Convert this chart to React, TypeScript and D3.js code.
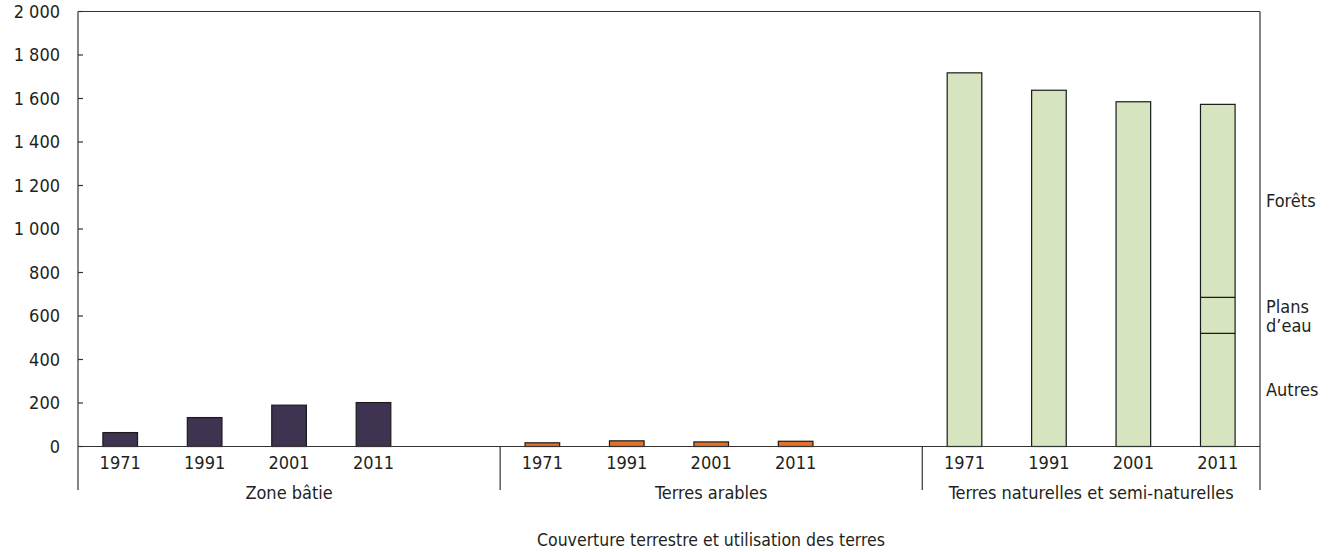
import * as d3 from 'd3';
import React, {useEffect} from 'react';

// categories and years
const groups = ['Zone bâtie', 'Terres arables', 'Terres naturelles et semi-naturelles'];
const years = ['1971', '1991', '2001', '2011'];
const blankSlots = [1, 1, 0];

// values (thousand ha)
const zoneBatie = [64, 133, 190, 202];
const terresArables = [17, 26, 21, 24];
const terresNaturelles = [1718, 1638, 1585, 1573];

// split of the last bar
const splitLabels = ['Autres', "Plans d'eau", 'Forêts'];
const split2011 = [520, 166, 887];

const yTicks = [0, 200, 400, 600, 800, 1000, 1200, 1400, 1600, 1800, 2000];
const xTitle = 'Couverture terrestre et utilisation des terres';

const colors = ['#3e3351', '#e2712b', '#d6e4bf'];
const FONT = '"Liberation Sans Narrow", "DejaVu Sans Condensed", Roboto, sans-serif';

const W = 1330, H = 552;
const margin = {left: 78, right: 70, top: 11.5, bottom: 105.5};

const fmt = (v: number) => d3.format(',')(v).replace(/,/g, '\u00a0');

export default function App() {
  useEffect(() => {
    document.body.style.margin = '0';
  }, []);

  const series = [zoneBatie, terresArables, terresNaturelles];
  const slots: string[] = [];
  groups.forEach((g, gi) => {
    years.forEach(y => slots.push(`${g}|${y}`));
    for (let i = 0; i < blankSlots[gi]; i++) slots.push(`${g}|_${i}`);
  });

  const x = d3.scaleBand<string>().domain(slots).range([margin.left, W - margin.right]).padding(0);
  const y = d3.scaleLinear().domain([0, 2000]).range([H - margin.bottom, margin.top]);
  const bw = x.bandwidth() * 0.41;
  const base = y(0);
  const axisBottom = 490;

  const groupStart = (gi: number) => x(`${groups[gi]}|${years[0]}`)!;
  const groupEnd = (gi: number) => gi < groups.length - 1 ? groupStart(gi + 1) : W - margin.right;

  const stack = d3.stack<number[]>().keys(splitLabels.map((_, i) => String(i)))
    .value((d, k) => d[+k]);
  const stacked = stack([split2011]);
  const lastKey = `${groups[2]}|${years[3]}`;

  const textColor = '#231f20';

  return (
    <svg width={W} height={H} style={{display: 'block', fontFamily: FONT}}>
      {/* bars */}
      {series.map((vals, gi) => vals.map((v, yi) => {
        const key = `${groups[gi]}|${years[yi]}`;
        const cx = x(key)! + x.bandwidth() / 2;
        return (
          <rect key={key} x={cx - bw / 2} y={y(v)} width={bw} height={base - y(v)}
            fill={colors[gi]} stroke="#1a1a1a" strokeWidth={1.2} />
        );
      }))}
      {/* split lines in last bar */}
      {stacked.slice(0, -1).map((s, i) => {
        const cx = x(lastKey)! + x.bandwidth() / 2;
        return <line key={i} x1={cx - bw / 2} x2={cx + bw / 2} y1={y(s[0][1])} y2={y(s[0][1])}
          stroke="#1a1a1a" strokeWidth={1.2} />;
      })}
      {/* frame */}
      <line x1={margin.left} x2={W - margin.right} y1={margin.top} y2={margin.top} stroke="#333" strokeWidth={1.2} />
      <line x1={margin.left} x2={margin.left} y1={margin.top} y2={axisBottom} stroke="#333" strokeWidth={1.2} />
      <line x1={W - margin.right} x2={W - margin.right} y1={margin.top} y2={axisBottom} stroke="#333" strokeWidth={1.2} />
      <line x1={margin.left} x2={W - margin.right} y1={base} y2={base} stroke="#333" strokeWidth={1.2} />
      {/* group separators */}
      {groups.slice(1).map((g, i) => (
        <line key={g} x1={groupStart(i + 1)} x2={groupStart(i + 1)} y1={base} y2={axisBottom} stroke="#333" strokeWidth={1.2} />
      ))}
      {/* y ticks */}
      {yTicks.map(t => (
        <g key={t} transform={`translate(0,${y(t)})`}>
          <line x1={margin.left} x2={margin.left + 5} stroke="#333" strokeWidth={1.2} />
          <text x={60} dy="0.35em" textAnchor="end" fontSize={18} fill={textColor}>{fmt(t)}</text>
        </g>
      ))}
      {/* year labels */}
      {groups.map(g => years.map(yr => {
        const key = `${g}|${yr}`;
        return <text key={key} x={x(key)! + x.bandwidth() / 2} y={463} dy="0.35em" textAnchor="middle"
          fontSize={18} fill={textColor}>{yr}</text>;
      }))}
      {/* group labels */}
      {groups.map((g, gi) => (
        <text key={g} x={(groupStart(gi) + groupEnd(gi)) / 2} y={493} dy="0.35em"
          textAnchor="middle" fontSize={18} fill={textColor}>{g}</text>
      ))}
      {/* right-side labels for the split */}
      {stacked.map((s, i) => {
        const mid = y((s[0][0] + s[0][1]) / 2);
        const lines = splitLabels[i] === "Plans d'eau" ? ['Plans', 'd\u2019eau'] : [splitLabels[i]];
        return (
          <text key={i} x={W - margin.right + 6} y={mid} fontSize={18} fill={textColor}>
            {lines.map((l, li) => (
              <tspan key={li} x={W - margin.right + 6}
                dy={li === 0 ? `${0.35 - (lines.length - 1) * 0.5}em` : '1.05em'}>{l}</tspan>
            ))}
          </text>
        );
      })}
      {/* x title */}
      <text x={711} y={540} dy="0.35em" textAnchor="middle" fontSize={17.5} fill={textColor}>{xTitle}</text>
    </svg>
  );
}
